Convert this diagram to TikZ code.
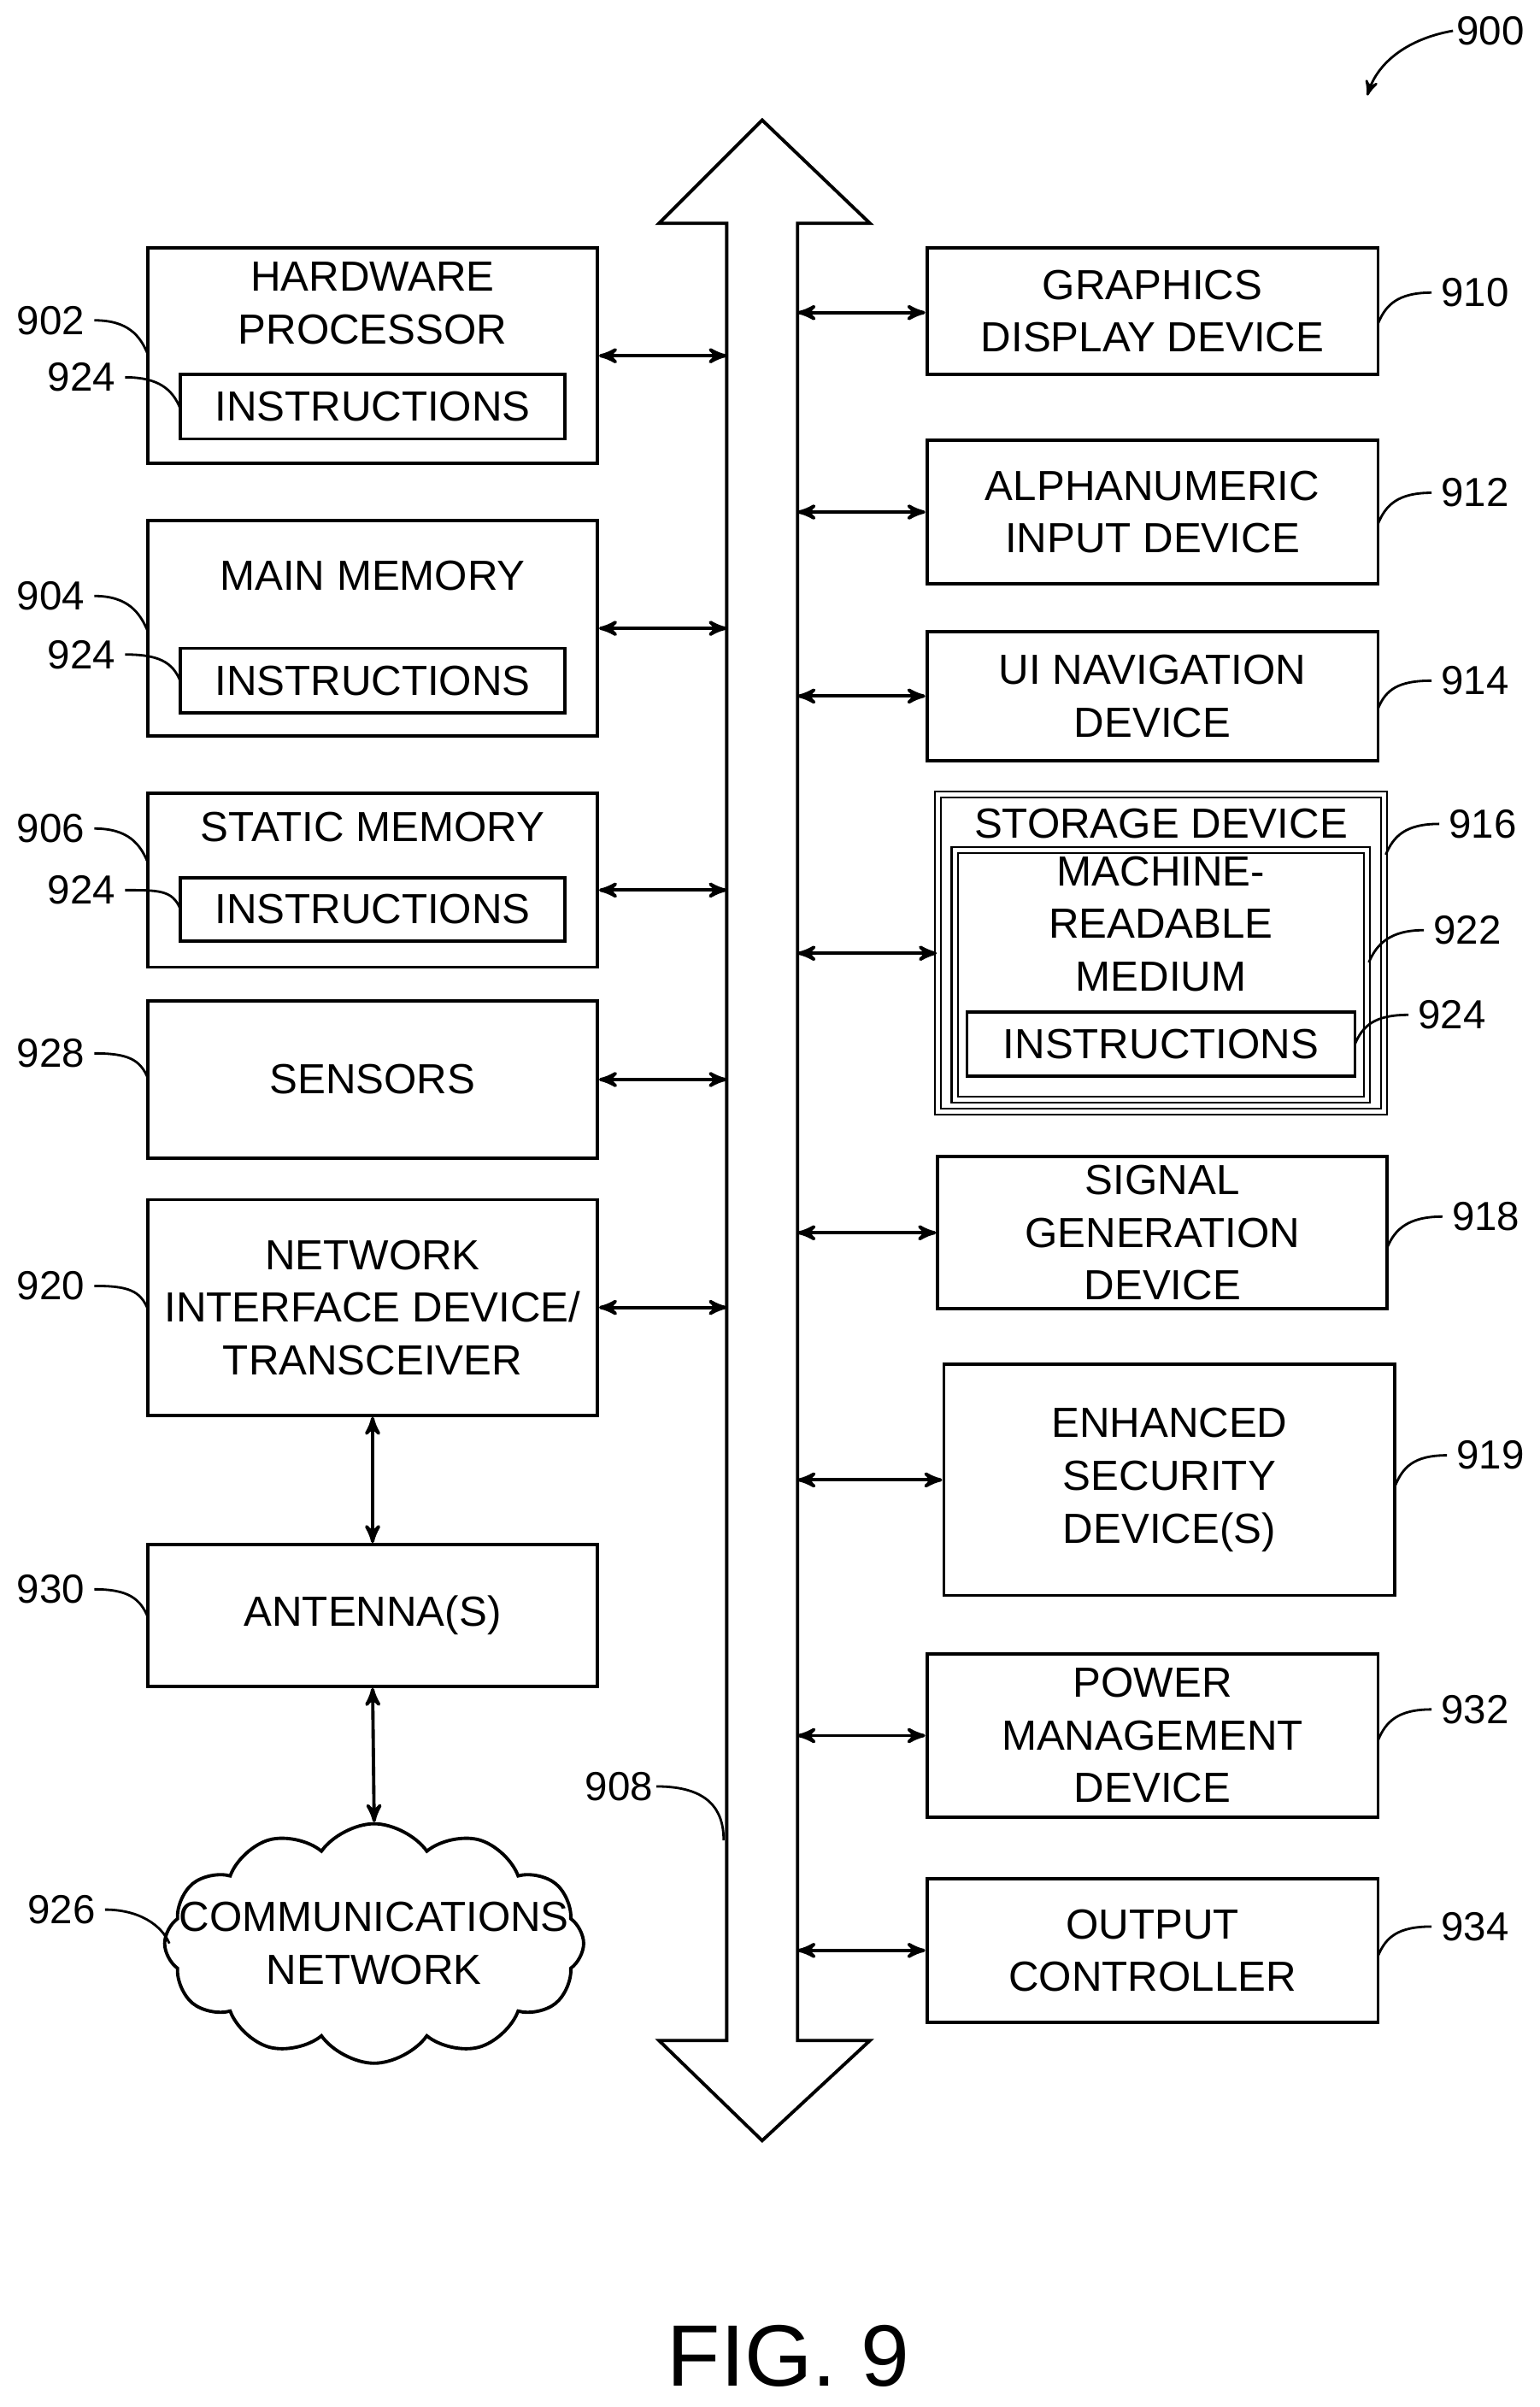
\documentclass[tikz,border=0pt]{standalone}
\usepackage{fontspec}
\setmainfont{Liberation Sans}
\usetikzlibrary{arrows, fit, shapes.symbols}
\tikzset{
    box/.style = {draw, line width=1.1pt, inner sep=0pt},
    dbox/.style = {box, double, double distance=1.4pt, line width=0.6pt},
    txt/.style = {align=center, font=\fontsize{14}{17.5}\selectfont, inner sep=0pt},
    num/.style = {font=\fontsize{13.5}{16}\selectfont, inner sep=1pt},
    lead/.style = {line width=0.8pt},
    link/.style = {line width=1.1pt, <->},
    >=stealth'
}

\begin{document}
\begin{tikzpicture}[x=0.01801cm, y=-0.01801cm]
        \useasboundingbox (0,0) rectangle (1000,1563);
        % system bus
        \coordinate (busL) at (472,0);
        \coordinate (busR) at (518,0);
        \draw[line width=1.1pt] (495,78) -- (565,145) -- (518,145) -- (518,1325) -- (565,1325) -- (495,1390)
            -- (428,1325) -- (472,1325) -- (472,145) -- (428,145) -- cycle;
        % left column
        \node[box, fit={(96,161) (388,301)}] (hw) {};
        \node[txt] at (242,197) {HARDWARE\\PROCESSOR};
        \node[box, fit={(117,243) (367,285)}] (hwi) {};
        \node[txt] at (hwi) {INSTRUCTIONS};
        \node[box, fit={(96,338) (388,478)}] (mm) {};
        \node[txt] at (242,374) {MAIN MEMORY};
        \node[box, fit={(117,421) (367,463)}] (mmi) {};
        \node[txt] at (mmi) {INSTRUCTIONS};
        \node[box, fit={(96,515) (388,628)}] (sm) {};
        \node[txt] at (242,537) {STATIC MEMORY};
        \node[box, fit={(117,570) (367,611)}] (smi) {};
        \node[txt] at (smi) {INSTRUCTIONS};
        \node[box, fit={(96,650) (388,752)}] (sens) {};
        \node[txt] at (sens) {SENSORS};
        \node[box, fit={(96,779) (388,919)}] (nic) {};
        \node[txt] at (nic) {NETWORK\\INTERFACE DEVICE/\\TRANSCEIVER};
        \node[box, fit={(96,1003) (388,1095)}] (ant) {};
        \node[txt] at (ant) {ANTENNA(S)};
        \node[cloud, draw, line width=1.1pt, cloud puffs=12, cloud puff arc=110, aspect=1.8,
            minimum width=4.9cm, minimum height=2.8cm] (net) at (243,1262) {};
        \node[txt] at (net) {COMMUNICATIONS\\NETWORK};
        % right column
        \node[box, fit={(602,161) (895,243)}] (gfx) {};
        \node[txt] at (gfx) {GRAPHICS\\DISPLAY DEVICE};
        \node[box, fit={(602,286) (895,379)}] (alpha) {};
        \node[txt] at (alpha) {ALPHANUMERIC\\INPUT DEVICE};
        \node[box, fit={(602,410) (895,494)}] (ui) {};
        \node[txt] at (ui) {UI NAVIGATION\\DEVICE};
        \node[dbox, fit={(609,516) (899,722)}] (stor) {};
        \node[txt] at (754,535) {STORAGE DEVICE};
        \node[dbox, fit={(620,552) (888,714)}] (mrm) {};
        \node[txt] at (754,600) {MACHINE-\\READABLE\\MEDIUM};
        \node[box, fit={(628,657) (880,699)}] (mrmi) {};
        \node[txt] at (mrmi) {INSTRUCTIONS};
        \node[box, fit={(609,751) (901,850)}] (sig) {};
        \node[txt] at (sig) {SIGNAL\\GENERATION\\DEVICE};
        \node[box, fit={(613,886) (906,1036)}] (sec) {};
        \node[txt] at (sec) {ENHANCED\\SECURITY\\DEVICE(S)};
        \node[box, fit={(602,1074) (895,1180)}] (pwr) {};
        \node[txt] at (pwr) {POWER\\MANAGEMENT\\DEVICE};
        \node[box, fit={(602,1220) (895,1313)}] (out) {};
        \node[txt] at (out) {OUTPUT\\CONTROLLER};
        % links to the bus
        \draw[link] (hw.east |- 0,231) -- (busL |- 0,231);
        \draw[link] (mm.east) -- (mm.east -| busL);
        \draw[link] (sm.east |- 0,578) -- (busL |- 0,578);
        \draw[link] (sens.east) -- (sens.east -| busL);
        \draw[link] (nic.east) -- (nic.east -| busL);
        \draw[link] (nic.south) -- (ant.north);
        \draw[link] (ant.south) -- (net.north);
        \draw[link] (busR |- 0,203) -- (gfx.west |- 0,203);
        \draw[link] (alpha.west -| busR) -- (alpha.west);
        \draw[link] (ui.west -| busR) -- (ui.west);
        \draw[link] (stor.west -| busR) -- (stor.west);
        \draw[link] (sig.west -| busR) -- (sig.west);
        \draw[link] (sec.west -| busR) -- (sec.west);
        \draw[link] (pwr.west -| busR) -- (pwr.west);
        \draw[link] (out.west -| busR) -- (out.west);
        % reference numerals
        \node[num] (n900) at (968,20) {900};
        \draw[lead, ->] (n900.west) .. controls (915,25) and (895,40) .. (888,62);
        \node[num] (n908) at (402,1160) {908};
        \draw[lead] (n908.east) .. controls (460,1160) and (470,1175) .. (470,1195);
        \foreach \n/\lx/\ly/\bx/\by in {902/33/208/96/230, 924/53/245/117/265, 904/33/387/96/410,
                924/53/425/117/442, 906/33/538/96/560, 924/53/578/117/590, 928/33/684/96/700,
                920/33/835/96/850, 930/33/1032/96/1050, 926/40/1240/110/1262} {
            \node[num] (l\n) at (\lx,\ly) {\n};
            \draw[lead] ([xshift=2pt]l\n.east) .. controls +(22,0) and (\bx-5,\by-12) .. (\bx,\by);
        }
        \foreach \n/\lx/\ly/\bx/\by in {910/958/190/895/210, 912/958/320/895/340, 914/958/442/895/460,
                916/963/535/900/555, 922/953/604/889/625, 924/943/659/880/678, 918/965/790/901/810,
                919/968/945/906/965, 932/958/1110/895/1130, 934/958/1251/895/1270} {
            \node[num] (r\n) at (\lx,\ly) {\n};
            \draw[lead] (\bx,\by) .. controls (\bx+5,\by-12) and +(-22,0) .. ([xshift=-2pt]r\n.west);
        }
        \node[font=\fontsize{29}{33}\selectfont] (fig) at (512,1530) {FIG. 9};
    \end{tikzpicture}
\end{document}
